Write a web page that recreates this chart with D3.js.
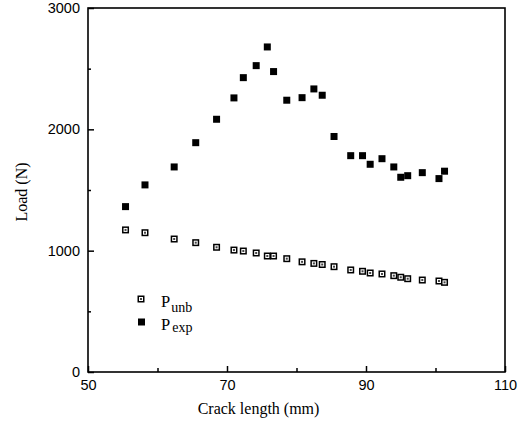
<!DOCTYPE html>
<html>
<head>
<meta charset="utf-8">
<script src="https://cdn.jsdelivr.net/npm/d3@7"></script>
<style>
  html, body { margin: 0; padding: 0; background: #fff; }
  svg { display: block; }
</style>
</head>
<body>
<svg id="chart" width="528" height="433"></svg>
<script>
// Crack length (mm)
const crackLength = [55.4, 58.2, 62.4, 65.5, 68.5, 71.0, 72.35, 74.2, 75.8, 76.7, 78.6, 80.8, 82.5, 83.7, 85.4, 87.8, 89.5, 90.6, 92.3, 94.0, 95.0, 96.0, 98.1, 100.5, 101.3];
// Load (N)
const pUnb = [1171, 1148, 1096, 1066, 1028, 1005, 997, 981, 956, 956, 934, 908, 895, 886, 868, 841, 830, 816, 808, 794, 781, 769, 758, 750, 739];
const pExp = [1363, 1542, 1690, 1890, 2083, 2259, 2426, 2525, 2679, 2476, 2240, 2261, 2333, 2281, 1941, 1783, 1783, 1712, 1758, 1690, 1605, 1618, 1643, 1594, 1655];

const xMajorTicks = [50, 70, 90, 110];
const xMinorTicks = [60, 80, 100];
const yMajorTicks = [0, 1000, 2000, 3000];
const yMinorTicks = [500, 1500, 2500];

const svg = d3.select("#chart");
const x = d3.scaleLinear().domain([50, 110]).range([88, 505]);
const y = d3.scaleLinear().domain([0, 3000]).range([372, 8]);

const sans = "'Liberation Sans', Arial, sans-serif";
const serif = "'Liberation Serif', 'Times New Roman', serif";

// axes
const gxMaj = svg.append("g").attr("transform", `translate(0,${y(0)})`)
  .call(d3.axisBottom(x).tickValues(xMajorTicks).tickSize(-6).tickPadding(8).tickFormat(d3.format("d")));
const gxMin = svg.append("g").attr("transform", `translate(0,${y(0)})`)
  .call(d3.axisBottom(x).tickValues(xMinorTicks).tickSize(-4).tickFormat(""));
const gyMaj = svg.append("g").attr("transform", `translate(${x(50)},0)`)
  .call(d3.axisLeft(y).tickValues(yMajorTicks).tickSize(-6).tickPadding(8).tickFormat(d3.format("d")));
const gyMin = svg.append("g").attr("transform", `translate(${x(50)},0)`)
  .call(d3.axisLeft(y).tickValues(yMinorTicks).tickSize(-3).tickFormat(""));

[gxMaj, gxMin, gyMaj, gyMin].forEach(g => {
  g.select(".domain").remove();
  g.selectAll(".tick line").attr("stroke", "#000").attr("stroke-width", 1.5);
  g.selectAll(".tick text").attr("fill", "#000").style("font-family", sans).style("font-size", "14.5px");
});

// frame
svg.append("rect")
  .attr("x", x(50)).attr("y", y(3000))
  .attr("width", x(110) - x(50)).attr("height", y(0) - y(3000))
  .attr("fill", "none").attr("stroke", "#000").attr("stroke-width", 1.6);

// axis titles
svg.append("text")
  .attr("x", (x(50) + x(110)) / 2 - 38).attr("y", 414)
  .attr("text-anchor", "middle")
  .style("font-family", serif).style("font-size", "16px")
  .text("Crack length (mm)");
svg.append("text")
  .attr("transform", `translate(27,${(y(0) + y(3000)) / 2 + 2}) rotate(-90)`)
  .attr("text-anchor", "middle")
  .style("font-family", serif).style("font-size", "16px")
  .text("Load (N)");

// markers
const S = 7;
function hollow(g, cx, cy) {
  g.append("rect").attr("x", cx - S / 2).attr("y", cy - S / 2).attr("width", S).attr("height", S).attr("fill", "#000");
  g.append("rect").attr("x", cx - 2).attr("y", cy - 2).attr("width", 4).attr("height", 4).attr("fill", "#fff");
  g.append("rect").attr("x", cx - 1).attr("y", cy - 1).attr("width", 2).attr("height", 2).attr("fill", "#444");
}
function filled(g, cx, cy) {
  g.append("rect").attr("x", cx - S / 2).attr("y", cy - S / 2).attr("width", S).attr("height", S).attr("fill", "#000");
}

const gUnb = svg.append("g");
crackLength.forEach((c, i) => hollow(gUnb, x(c), y(pUnb[i])));
const gExp = svg.append("g");
crackLength.forEach((c, i) => filled(gExp, x(c), y(pExp[i])));

// legend
const leg = svg.append("g");
hollow(leg, 141, 299);
filled(leg, 141.5, 322);
const t1 = leg.append("text").attr("x", 161).attr("y", 306.5)
  .style("font-family", serif).style("font-size", "16.5px");
t1.append("tspan").text("P");
t1.append("tspan").attr("dy", 5.5).attr("dx", 1).style("font-size", "14px").text("unb");
const t2 = leg.append("text").attr("x", 161).attr("y", 329.5)
  .style("font-family", serif).style("font-size", "16.5px");
t2.append("tspan").text("P");
t2.append("tspan").attr("dy", 2.5).attr("dx", 2).style("font-size", "14px").text("exp");
</script>
</body>
</html>
